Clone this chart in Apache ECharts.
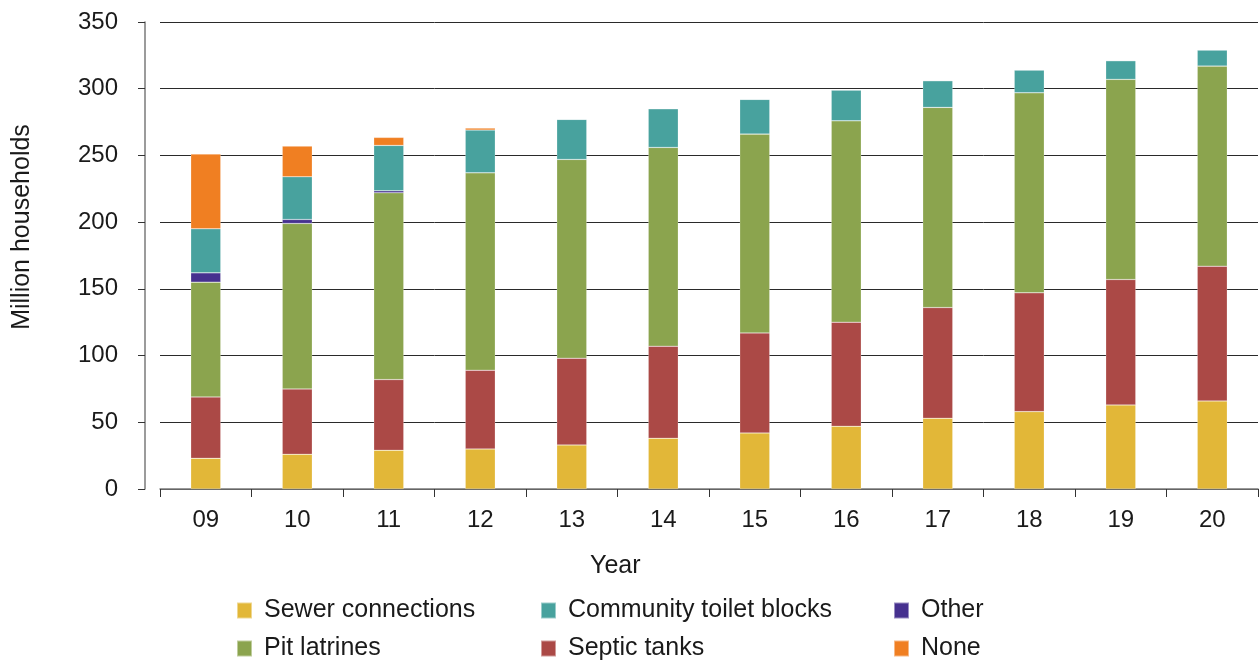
<!DOCTYPE html>
<html>
<head>
<meta charset="utf-8">
<script src="https://cdn.jsdelivr.net/npm/echarts@6/dist/echarts.min.js"></script>
<style>
html,body{margin:0;padding:0;background:#fff;}
#chart{width:1259px;height:660px;}
</style>
</head>
<body>
<div id="chart"></div>
<script>
const years = ['09','10','11','12','13','14','15','16','17','18','19','20'];
const sewer     = [23, 26, 29, 30, 33, 38, 42, 47, 53, 58, 63, 66];
const septic    = [46, 49, 53, 59, 65, 69, 75, 78, 83, 89, 94, 101];
const pit       = [86, 124, 140, 148, 149, 149, 149, 151, 150, 150, 150, 150];
const other     = [7, 3, 1.5, 0, 0, 0, 0, 0, 0, 0, 0, 0];
const community = [33, 32, 34, 32, 30, 29, 26, 23, 20, 17, 14, 12];
const none      = [56, 23, 6, 1.5, 0, 0, 0, 0, 0, 0, 0, 0];
const yTicks = [0, 50, 100, 150, 200, 250, 300, 350];

const FONT = '"Liberation Sans", Arial, Helvetica, sans-serif';
const chart = echarts.init(document.getElementById('chart'), null, {renderer: 'canvas'});

function s(name, data, color) {
  return {
    name, type: 'bar', stack: 'total', data, barWidth: 30,
    itemStyle: {color, borderColor: 'rgba(255,255,255,0.45)', borderWidth: 0.5},
    emphasis: {disabled: true}
  };
}

const legendBase = {
  orient: 'vertical', icon: 'rect', itemWidth: 15, itemHeight: 16, itemGap: 13,
  padding: 0, selectedMode: false, height: 120,
  textStyle: {fontFamily: FONT, fontSize: 25, color: '#1a1a1a', padding: [0, 0, 0, 7]}
};

chart.setOption({
  animation: false,
  backgroundColor: '#fff',
  grid: {left: 160, right: 1, top: 22, bottom: 171},
  legend: [
    Object.assign({}, legendBase, {left: 236, top: 598, data: ['Sewer connections', 'Pit latrines']}),
    Object.assign({}, legendBase, {left: 540, top: 598, data: ['Community toilet blocks', 'Septic tanks']}),
    Object.assign({}, legendBase, {left: 893, top: 598, data: ['Other', 'None']})
  ],
  xAxis: {
    type: 'category', data: years,
    axisLine: {lineStyle: {color: '#7a7a7a', width: 1.5}},
    axisTick: {show: true, length: 8, lineStyle: {color: '#333'}},
    axisLabel: {fontFamily: FONT, fontSize: 24, color: '#1a1a1a', margin: 19}
  },
  yAxis: {
    type: 'value', min: 0, max: 350, interval: 50, offset: 15,
    axisLine: {show: true, lineStyle: {color: '#7a7a7a', width: 1.5}},
    axisTick: {show: true, length: 7, lineStyle: {color: '#333'}},
    axisLabel: {fontFamily: FONT, fontSize: 24, color: '#1a1a1a', margin: 27,
      formatter: v => yTicks.includes(v) ? String(v) : ''},
    splitLine: {show: true, lineStyle: {color: '#2a2a2a', width: 1}}
  },
  graphic: [
    {type: 'text', left: 590, top: 554,
      style: {text: 'Year', font: '25px ' + FONT, fill: '#1a1a1a'}},
    {type: 'text', x: 22, y: 227, rotation: Math.PI / 2,
      style: {text: 'Million households', font: '25px ' + FONT, fill: '#1a1a1a',
        align: 'center', verticalAlign: 'middle'}}
  ],
  series: [
    s('Sewer connections', sewer, '#E2B738'),
    s('Septic tanks', septic, '#AB4946'),
    s('Pit latrines', pit, '#8BA44E'),
    s('Other', other, '#46318F'),
    s('Community toilet blocks', community, '#48A29E'),
    s('None', none, '#F07F22')
  ]
});
</script>
</body>
</html>
